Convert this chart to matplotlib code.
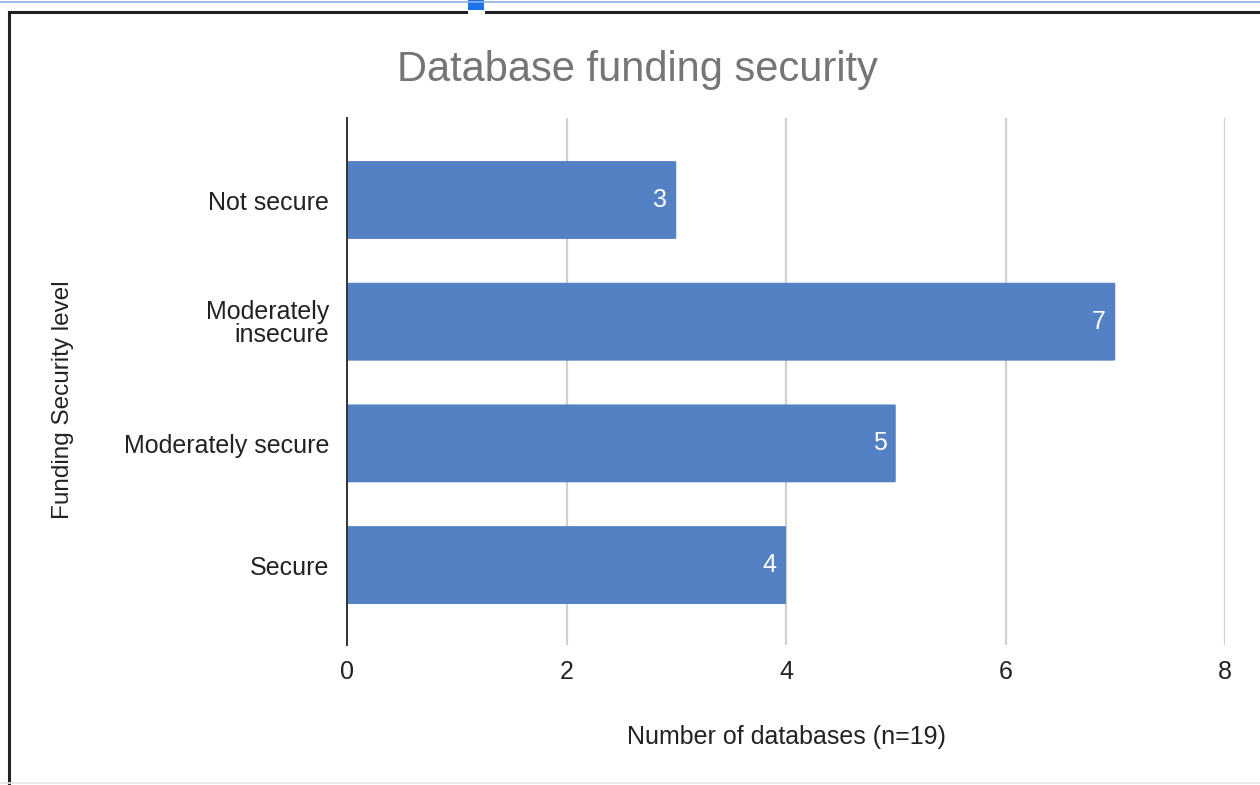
import matplotlib
matplotlib.use("Agg")
import matplotlib.pyplot as plt
from matplotlib.patches import FancyBboxPatch, Rectangle
from matplotlib.lines import Line2D

categories = ["Not secure", "Moderately\ninsecure", "Moderately secure", "Secure"]
values = [3, 7, 5, 4]
xticks = [0, 2, 4, 6, 8]

plt.rcParams['font.family'] = ['Liberation Sans', 'DejaVu Sans']

W, H = 1260, 785
fig = plt.figure(figsize=(W / 100, H / 100), dpi=100)
fig.patch.set_facecolor("white")

# axes placement in pixels
left, right, top, bottom = 347, 1225, 118, 645
ax = fig.add_axes([left / W, 1 - bottom / H, (right - left) / W, (bottom - top) / H])

bar_color = "#5381c3"
ypos = list(range(len(categories)))
bar_h = 0.64
for y, v in zip(ypos, values):
    p = FancyBboxPatch((0, y - bar_h / 2), v, bar_h,
                       boxstyle="round,pad=0,rounding_size=0.03",
                       mutation_aspect=1 / 8 * 0.9,
                       facecolor=bar_color, edgecolor="none", zorder=3)
    ax.add_patch(p)
    ax.text(v - 0.085, y, str(v), ha="right", va="center", color="white",
            fontsize=18, zorder=4)

ax.set_xlim(0, 8)
ax.set_ylim(3.657, -0.674)
ax.set_xticks(xticks)
ax.set_xticklabels([str(t) for t in xticks], fontsize=18, color="#222222")
ax.set_yticks(ypos)
ax.set_yticklabels(categories, fontsize=18, color="#222222", linespacing=0.95)
ax.tick_params(axis="both", length=0)
ax.tick_params(axis="x", pad=11)
ax.tick_params(axis="y", pad=13)
ax.grid(axis="x", color="#d0d0d0", linewidth=1.6, zorder=0)
ax.set_axisbelow(True)
for s in ["top", "right", "bottom"]:
    ax.spines[s].set_visible(False)
ax.spines["left"].set_color("#333333")
ax.spines["left"].set_linewidth(1.4)
ax.spines["left"].set_zorder(5)

ax.set_xlabel("Number of databases (n=19)", fontsize=18, color="#222222", labelpad=29)
ax.set_ylabel("Funding Security level", fontsize=17.5, color="#222222")
ax.yaxis.set_label_coords((63 - left) / (right - left), 1 - (400 - top) / (bottom - top))
ax.yaxis.label.set_va("center")

fig.text(637 / W, 1 - 70 / H, "Database funding security", ha="center", va="center",
         fontsize=30, color="#757575")

# screenshot frame
fig.add_artist(Line2D([9 / W, 9 / W], [0, 1 - 12 / H], transform=fig.transFigure,
                      color="#222222", linewidth=2.2))
fig.add_artist(Line2D([9 / W, 466 / W], [1 - 12 / H, 1 - 12 / H], transform=fig.transFigure,
                      color="#222222", linewidth=2.2))
fig.add_artist(Line2D([486 / W, 1], [1 - 12 / H, 1 - 12 / H], transform=fig.transFigure,
                      color="#222222", linewidth=2.2))
fig.add_artist(Line2D([0, 1], [1 - 1.5 / H, 1 - 1.5 / H], transform=fig.transFigure,
                      color="#8ab0e8", linewidth=1.2))
fig.add_artist(Line2D([0, 1], [1 - 783 / H, 1 - 783 / H], transform=fig.transFigure,
                      color="#e6e6e6", linewidth=1.2))
fig.add_artist(Rectangle((468 / W, 1 - 10 / H), 16 / W, 10 / H, transform=fig.transFigure,
                         facecolor="#1a73e8", edgecolor="none"))

fig.savefig("out.png", dpi=100, facecolor="white")
